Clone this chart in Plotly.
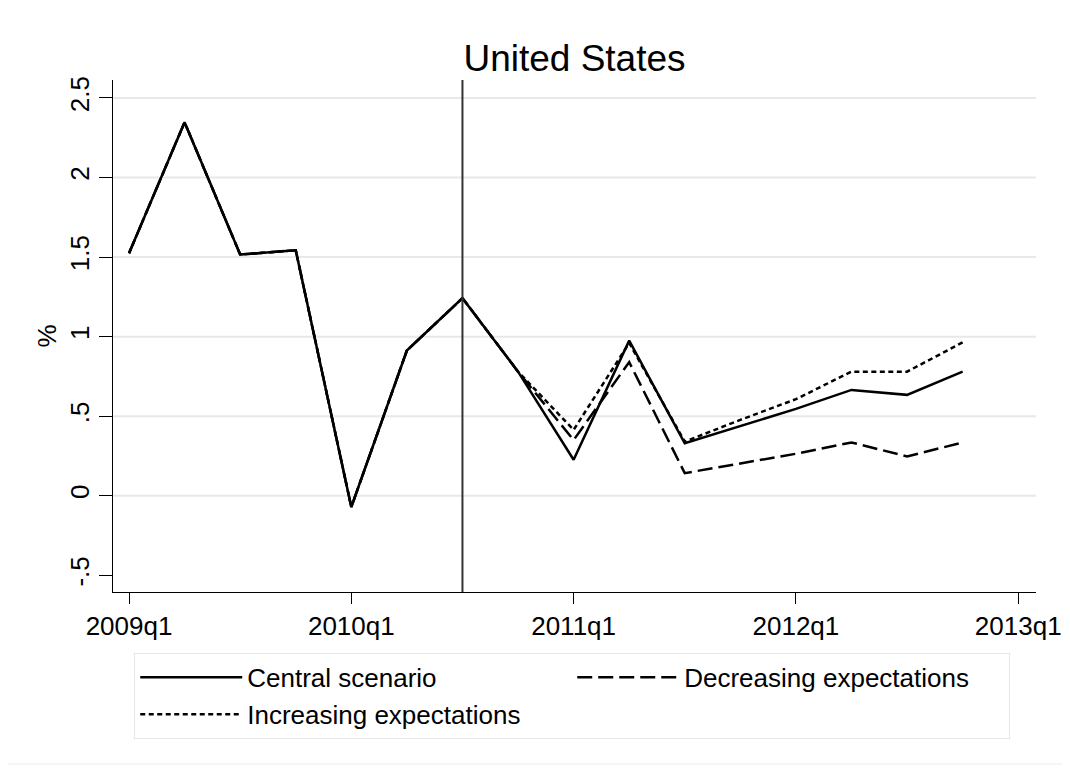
import plotly.graph_objects as go

quarters = ["2009q1", "2009q2", "2009q3", "2009q4",
            "2010q1", "2010q2", "2010q3", "2010q4",
            "2011q1", "2011q2", "2011q3", "2011q4",
            "2012q1", "2012q2", "2012q3", "2012q4"]
central = [1.524, 2.347, 1.516, 1.543, -0.071, 0.913, 1.242, 0.78,
           0.226, 0.975, 0.33, 0.44, 0.546, 0.665, 0.634, 0.78]
decreasing = [1.524, 2.347, 1.516, 1.543, -0.071, 0.913, 1.242, 0.78,
              0.35, 0.84, 0.142, 0.205, 0.264, 0.335, 0.247, 0.335]
increasing = [1.524, 2.347, 1.516, 1.543, -0.071, 0.913, 1.242, 0.78,
              0.414, 0.96, 0.34, 0.477, 0.607, 0.78, 0.78, 0.964]
xtick_labels = ["2009q1", "2010q1", "2011q1", "2012q1", "2013q1"]
ytick_vals = [-0.5, 0, 0.5, 1, 1.5, 2, 2.5]
ytick_text = ["-.5", "0", ".5", "1", "1.5", "2", "2.5"]
grid_vals = [0, 0.5, 1, 1.5, 2, 2.5]
event_quarter = "2010q3"

x = list(range(len(quarters)))
xtick_vals = [4 * i for i in range(len(xtick_labels))]

FONT = "Liberation Sans, Arial, sans-serif"

fig = go.Figure()
fig.add_trace(go.Scatter(x=x, y=central, mode="lines", name="Central scenario",
                         line=dict(color="black", width=2.5)))
fig.add_trace(go.Scatter(x=x, y=decreasing, mode="lines", name="Decreasing expectations",
                         line=dict(color="black", width=2.5, dash="15px,6px")))
fig.add_trace(go.Scatter(x=x, y=increasing, mode="lines", name="Increasing expectations",
                         line=dict(color="black", width=2.5, dash="5px,3.5px")))

for g in grid_vals:
    fig.add_hline(y=g, line=dict(color="#e8e8e8", width=2), layer="below")

fig.add_vline(x=quarters.index(event_quarter), line=dict(color="#333333", width=2))

# faint outer frame of the graph region
fig.add_shape(type="rect", xref="paper", yref="paper",
              x0=-0.1148, x1=1.029, y0=-0.336, y1=1.1426,
              line=dict(color="#ececec", width=1), layer="below")

fig.update_layout(
    width=1062, height=763,
    margin=dict(l=105, r=34, t=72, b=179, autoexpand=False),
    paper_bgcolor="white", plot_bgcolor="white",
    font=dict(family=FONT, size=26, color="black"),
    title=dict(text="United States", x=0.5, xref="paper", y=0.9345, yref="container",
               xanchor="center", yanchor="middle", font=dict(size=37, family=FONT)),
    showlegend=True,
    legend=dict(orientation="h", x=0.023, y=-0.119, xanchor="left", yanchor="top",
                bordercolor="#e6e6e6", borderwidth=1, bgcolor="white",
                font=dict(size=26, family=FONT), itemwidth=102,
                entrywidth=320, entrywidthmode="pixels",
                traceorder="normal"),
    xaxis=dict(range=[-0.288, 16.32], tickvals=xtick_vals, ticktext=xtick_labels,
               showgrid=False, zeroline=False, showline=True, linecolor="black",
               linewidth=1, ticks="outside", ticklen=11, tickcolor="black",
               tickfont=dict(size=26), automargin=False),
    yaxis=dict(range=[-0.605, 2.613], tickvals=ytick_vals, ticktext=ytick_text,
               tickangle=-90, showgrid=False, zeroline=False, showline=True,
               linecolor="black", linewidth=1, ticks="outside", ticklen=13,
               tickcolor="black", tickfont=dict(size=26), automargin=False,
               title=dict(text="%", font=dict(size=26), standoff=0)),
)

fig.write_html("out.html")
